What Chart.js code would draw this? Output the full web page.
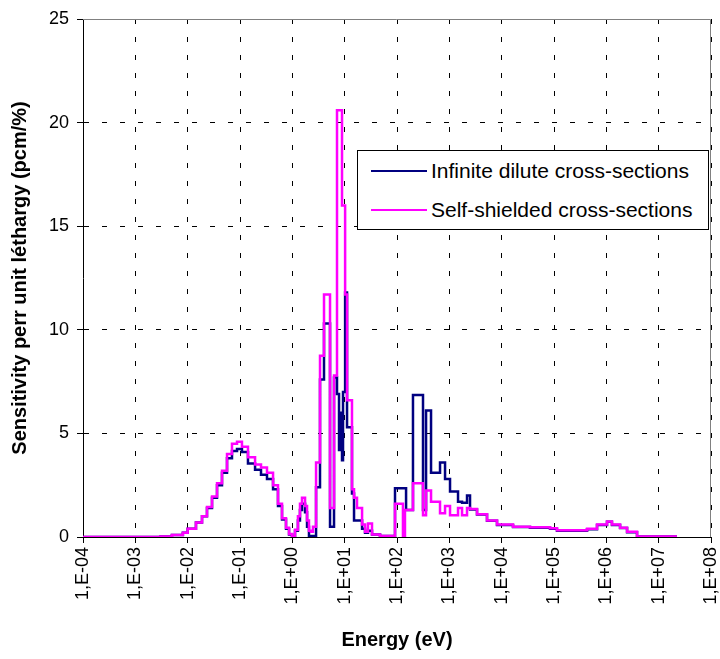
<!DOCTYPE html>
<html>
<head>
<meta charset="utf-8">
<title>Sensitivity per unit lethargy</title>
<script src="https://cdn.jsdelivr.net/npm/chart.js@4.4.1/dist/chart.umd.min.js"></script>
<style>
  html, body { margin: 0; padding: 0; background: #fff; }
  #wrap { position: relative; width: 720px; height: 659px; }
  #legend {
    position: absolute; left: 357px; top: 150px; width: 352px; height: 80px;
    box-sizing: border-box; border: 1px solid #000; background: #fff;
    font: 21px "Liberation Sans", Arial, sans-serif; color: #000;
  }
  #legend .row { display: flex; align-items: center; height: 39px; }
  #legend .swatch { width: 56px; height: 2px; margin-left: 13px; margin-right: 4px; }
</style>
</head>
<body>
<div id="wrap">
  <canvas id="chart" width="720" height="659"></canvas>
  <div id="legend"></div>
</div>
<script>
'use strict';

// energy group boundaries (eV), one more than the number of groups
var groupBounds = [1e-4, 3.0e-3, 5.0e-3, 8.1e-3, 1.0e-2, 1.44e-2, 1.88e-2, 2.34e-2, 2.92e-2, 3.64e-2,
  4.53e-2, 5.65e-2, 7.03e-2, 8.77e-2, 0.109, 0.142, 0.194, 0.252, 0.328, 0.428,
  0.532, 0.635, 0.757, 0.865, 0.986, 1.125, 1.28, 1.40, 1.53, 1.75,
  1.91, 2.08, 2.27, 2.48, 2.84, 3.38, 4.03, 5.25, 6.26, 7.14,
  7.80, 8.15, 8.90, 9.30, 10.2, 11.1, 13.8, 15.1, 17.2, 21.5,
  24.5, 27.9, 33.3, 47.4, 91.6, 130, 142, 149, 202, 314,
  359, 447, 664, 828, 1031, 1466, 1749, 2178, 2486, 3381,
  5248, 8147, 16480, 34800, 84000, 114000, 428000, 664000, 1.03e6, 1.28e6,
  1.83e6, 2.49e6, 3.86e6, 2.24e7];

// sensitivity per unit lethargy (pcm/%) per group
var infDilute = [0, 0.03, 0.1, 0.2, 0.4, 0.7, 1.0, 1.4, 1.9, 2.5,
  3.1, 3.8, 4.15, 4.25, 4.1, 3.55, 3.25, 3.0, 2.8, 2.3,
  1.5, 0.85, 0.4, 0.12, 0.02, 0.3, 0.8, 1.3, 1.6, 1.2,
  0.5, 0.05, 0.02, 0.05, 2.4, 7.6, 10.3, 0.5, 7.7, 6.9,
  4.2, 6.0, 3.7, 7.0, 11.8, 5.3, 2.1, 0.8, 0.8, 0.4,
  0.2, 0.3, 0.12, 0.05, 2.35, 2.35, 2.35, 1.3, 6.85, 1.3,
  6.1, 3.1, 3.6, 2.8, 2.2, 1.7, 1.65, 2.0, 1.33, 1.08,
  0.78, 0.58, 0.48, 0.45, 0.4, 0.3, 0.38, 0.58, 0.73, 0.58,
  0.43, 0.23, 0.02];

var selfShielded = [0, 0.03, 0.1, 0.2, 0.4, 0.7, 1.0, 1.45, 1.95, 2.6,
  3.2, 4.0, 4.5, 4.6, 4.35, 3.85, 3.5, 3.35, 3.1, 2.5,
  1.6, 0.9, 0.45, 0.15, 0.03, 0.35, 1.0, 1.6, 1.9, 1.5,
  0.8, 0.3, 0.25, 0.5, 3.6, 8.75, 11.7, 1.4, 7.8, 20.6,
  20.6, 20.6, 16.0, 16.0, 11.7, 6.6, 2.3, 1.9, 1.4, 0.6,
  0.25, 0.65, 0.12, 0.05, 1.6, 0, 1.3, 1.3, 2.6, 1.05,
  2.25, 1.7, 1.15, 1.5, 1.05, 1.4, 1.05, 1.4, 1.35, 1.1,
  0.8, 0.6, 0.5, 0.47, 0.42, 0.32, 0.4, 0.6, 0.75, 0.6,
  0.45, 0.25, 0.03];

var seriesLabels = ['Infinite dilute cross-sections', 'Self-shielded cross-sections'];
var seriesColors = ['#000080', '#ff00ff'];

var xTickValues = [1e-4, 1e-3, 1e-2, 1e-1, 1e0, 1e1, 1e2, 1e3, 1e4, 1e5, 1e6, 1e7, 1e8];
var xTickLabels = ['1,E-04', '1,E-03', '1,E-02', '1,E-01', '1,E+00', '1,E+01', '1,E+02',
  '1,E+03', '1,E+04', '1,E+05', '1,E+06', '1,E+07', '1,E+08'];

var FONT = '"Liberation Sans", Arial, sans-serif';

// each group value starts at its lower bound; last point closes the final step
function toSteps(values) {
  var points = values.map(function (v, i) {
    return { x: groupBounds[i], y: v };
  });
  points.push({ x: groupBounds[values.length], y: values[values.length - 1] });
  return points;
}

var gridOpts = { color: '#000', lineWidth: 1, tickLength: 6, tickColor: '#000', tickWidth: 1 };
var borderOpts = { color: '#000', width: 1, dash: [5, 13] };

// gray frame on the top and right of the plot area
var frame = {
  id: 'frame',
  beforeDatasetsDraw: function (chart) {
    var a = chart.chartArea, ctx = chart.ctx;
    ctx.save();
    ctx.strokeStyle = '#808080';
    ctx.lineWidth = 1;
    ctx.beginPath();
    ctx.moveTo(a.left, a.top + 0.5);
    ctx.lineTo(a.right - 0.5, a.top + 0.5);
    ctx.lineTo(a.right - 0.5, a.bottom);
    ctx.stroke();
    ctx.restore();
  }
};

Chart.defaults.font.family = FONT;
Chart.defaults.color = '#000';

var chart = new Chart(document.getElementById('chart'), {
  type: 'line',
  data: {
    datasets: [
      { label: seriesLabels[0], data: toSteps(infDilute), borderColor: seriesColors[0], order: 1 },
      { label: seriesLabels[1], data: toSteps(selfShielded), borderColor: seriesColors[1], order: 0 }
    ]
  },
  options: {
    responsive: false,
    animation: false,
    devicePixelRatio: 1,
    layout: { padding: { top: 19, right: 9, left: 0, bottom: 0 } },
    elements: {
      line: { stepped: true, borderWidth: 2.5, fill: false, tension: 0 },
      point: { radius: 0, hoverRadius: 0 }
    },
    plugins: { legend: { display: false }, tooltip: { enabled: false } },
    scales: {
      x: {
        type: 'logarithmic',
        min: 1e-4,
        max: 1e8,
        afterBuildTicks: function (scale) {
          scale.ticks = xTickValues.map(function (v) { return { value: v }; });
        },
        afterFit: function (scale) {
          scale.height = 122;
          scale.paddingLeft = 0;
          scale.paddingRight = 0;
        },
        ticks: {
          autoSkip: false, minRotation: 90, maxRotation: 90, padding: 4,
          font: { size: 18 },
          callback: function (value, index) { return xTickLabels[index]; }
        },
        grid: gridOpts,
        border: borderOpts,
        title: {
          display: true, text: 'Energy (eV)',
          font: { size: 20, weight: 'bold' },
          padding: { top: 0, bottom: 7 }
        }
      },
      y: {
        min: 0,
        max: 25,
        afterFit: function (scale) {
          scale.width = 83;
          scale.paddingTop = 0;
          scale.paddingBottom = 0;
        },
        ticks: { stepSize: 5, padding: 8, font: { size: 18 } },
        grid: gridOpts,
        border: borderOpts,
        title: {
          display: true, text: 'Sensitivity perr unit léthargy (pcm/%)',
          font: { size: 20, weight: 'bold' },
          padding: { top: 8, bottom: 0 }
        }
      }
    }
  },
  plugins: [frame]
});

// legend box inside the plot, built from the datasets
var legendEl = document.getElementById('legend');
chart.data.datasets.forEach(function (ds) {
  var row = document.createElement('div');
  row.className = 'row';
  var sw = document.createElement('span');
  sw.className = 'swatch';
  sw.style.background = ds.borderColor;
  var txt = document.createElement('span');
  txt.textContent = ds.label;
  row.appendChild(sw);
  row.appendChild(txt);
  legendEl.appendChild(row);
});
</script>
</body>
</html>
